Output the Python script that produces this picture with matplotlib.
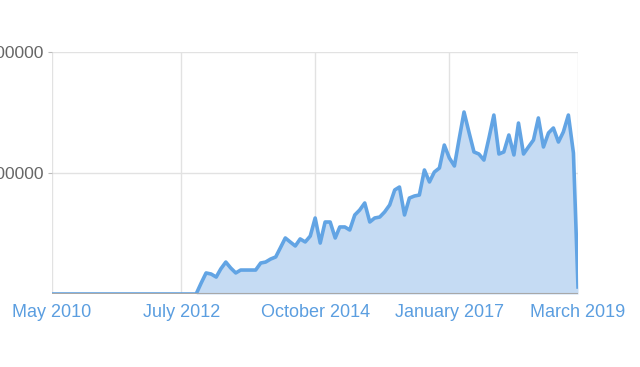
import pandas as pd
import matplotlib
matplotlib.use("Agg")
import matplotlib.pyplot as plt

# monthly values, May 2010 .. March 2019
months = pd.date_range("2010-05-01", "2019-03-01", freq="MS")
values = [0] * 30 + [
    91000, 174000, 165000, 140000, 207000, 264000, 215000, 174000, 198000, 198000,
    198000, 198000, 256000, 264000, 289000, 306000, 380000, 463000, 430000, 397000,
    455000, 430000, 479000, 628000, 421000, 595000, 595000, 463000, 554000, 554000,
    529000, 653000, 694000, 752000, 595000, 628000, 636000, 678000, 736000, 860000,
    884000, 653000, 793000, 810000, 818000, 1025000, 926000, 1008000, 1041000, 1231000,
    1124000, 1058000, 1273000, 1504000, 1339000, 1174000, 1157000, 1107000, 1290000, 1479000,
    1157000, 1174000, 1314000, 1149000, 1413000, 1157000, 1215000, 1273000, 1455000, 1215000,
    1331000, 1372000, 1256000, 1339000, 1479000, 1165000, 58000,
]
tick_dates = pd.to_datetime(["2010-05-01", "2012-07-01", "2014-10-01", "2017-01-01", "2019-03-01"])
tick_labels = ["May 2010", "July 2012", "October 2014", "January 2017", "March 2019"]
y_ticks = [1000000, 2000000]

plt.rcParams["font.family"] = ["Liberation Sans", "DejaVu Sans"]

fig = plt.figure(figsize=(6.4, 3.67), dpi=100)
ax = fig.add_axes([52 / 640, 1 - 294 / 367, 526 / 640, 242 / 367])

ax.fill_between(months, values, 0, color="#c5dbf3", linewidth=0, zorder=2)
ax.plot(months, values, color="#62a4e4", linewidth=2.6, solid_joinstyle="round", zorder=3)

ax.set_xlim(months[0], months[-1])
ax.set_ylim(0, 2000000)

ax.set_xticks(tick_dates)
ax.set_xticklabels(tick_labels, color="#5b9ee0", fontsize=13)
ax.tick_params(axis="x", length=0, pad=7)
ax.set_yticks(y_ticks)
ax.set_yticklabels([str(v) for v in y_ticks], color="#666666", fontsize=12.5)
ax.tick_params(axis="y", length=3, color="#bbbbbb", pad=3)

ax.grid(True, color="#e2e2e2", linewidth=1, zorder=1)
ax.axhline(2000000, color="#b0b0b0", linewidth=1.2, zorder=1)
ax.axhline(0, color="#a8a8a8", linewidth=1.5, zorder=4)
for s in ax.spines.values():
    s.set_visible(False)

fig.savefig("out.png", dpi=100)
